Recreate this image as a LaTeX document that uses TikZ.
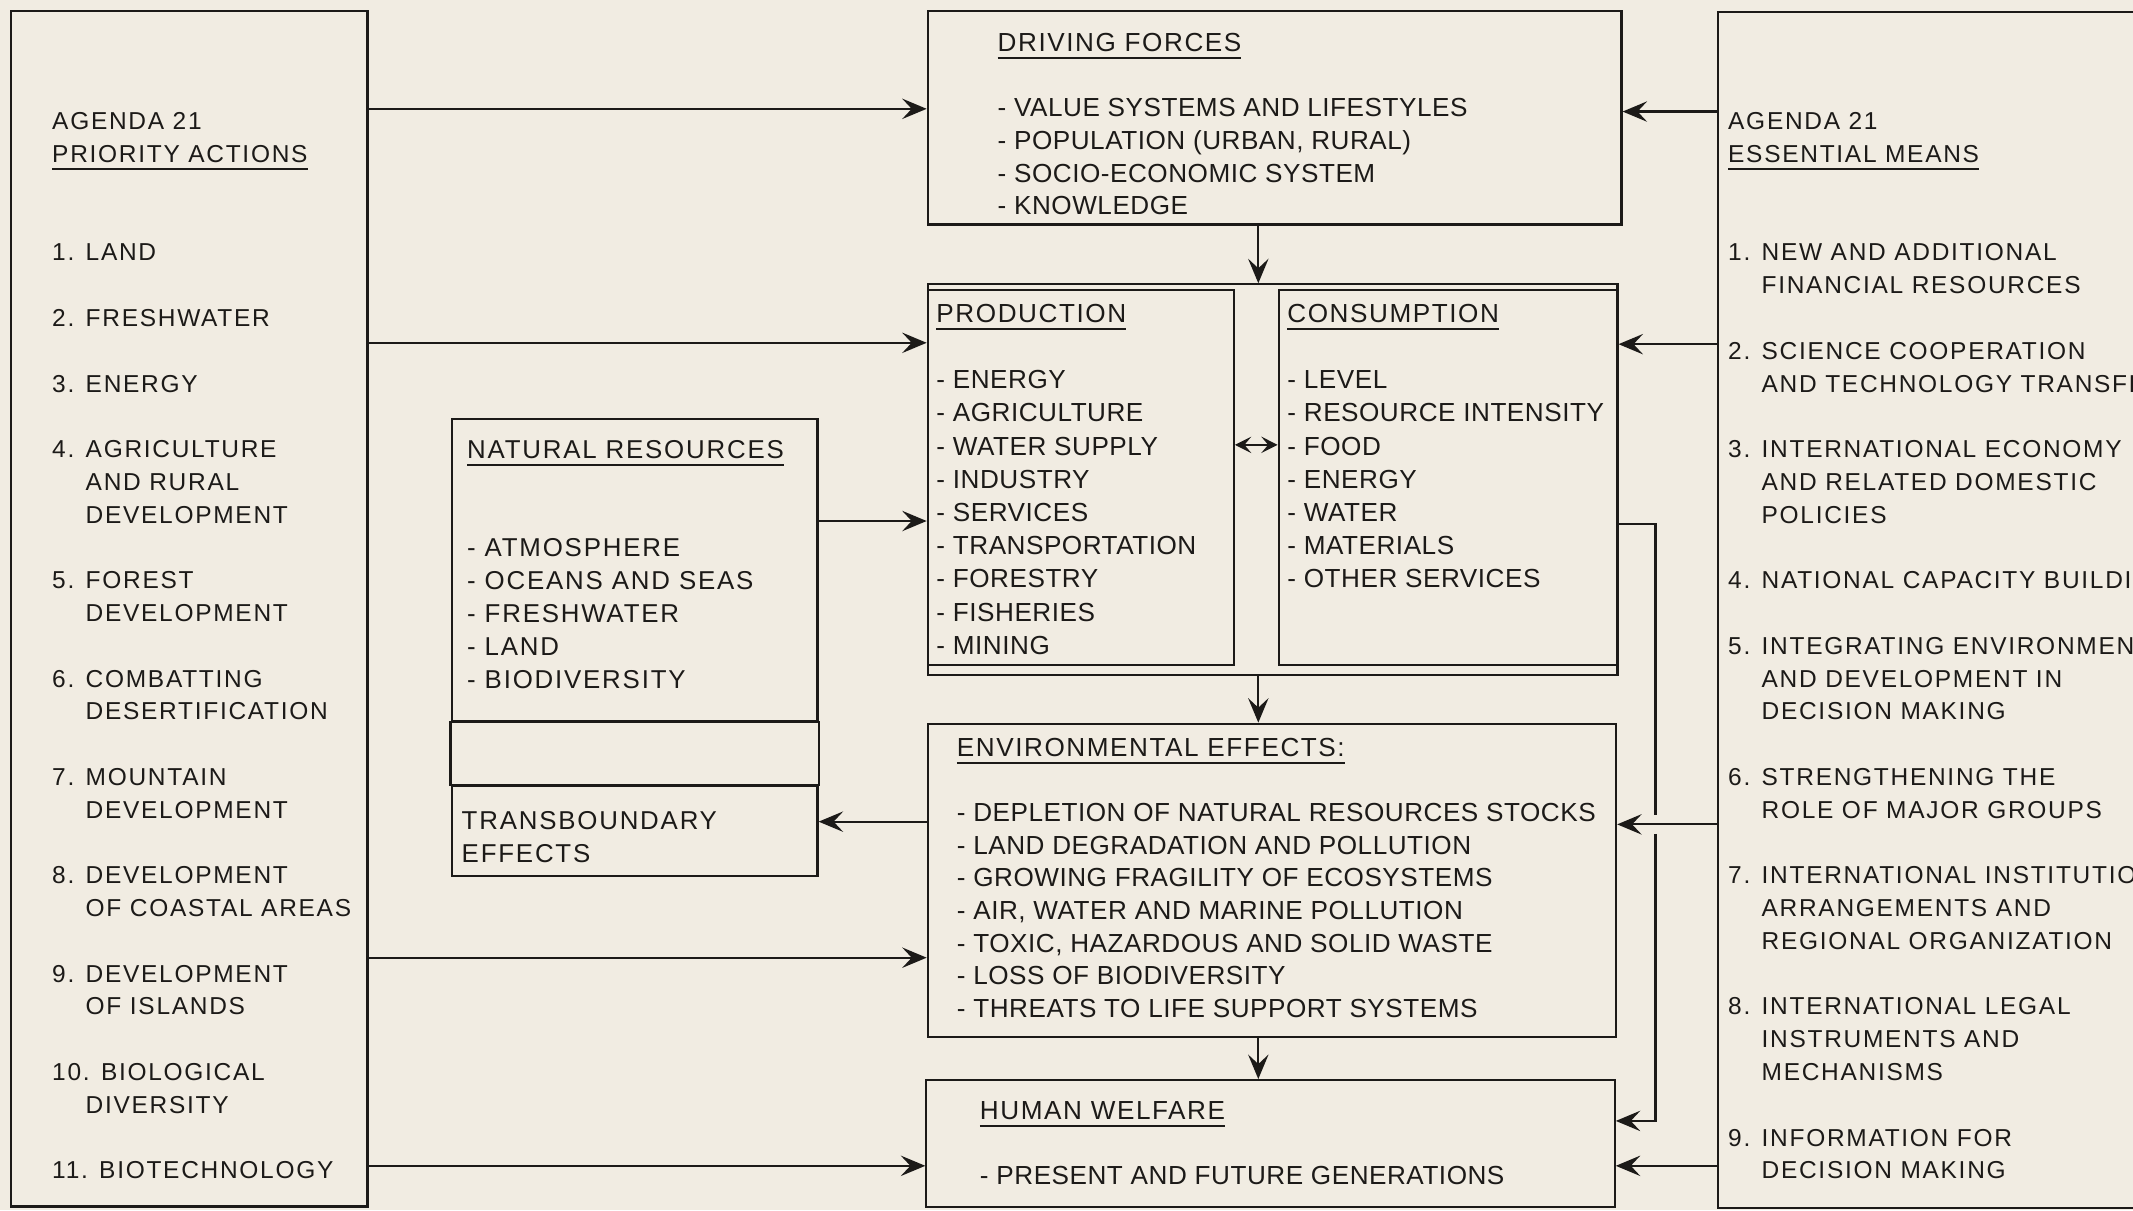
\documentclass[tikz,border=0pt]{standalone}
\usepackage{fontspec}
\setmainfont{Liberation Sans}
\newfontfamily\widefont[LetterSpace=7]{Liberation Sans}
\newfontfamily\ctrfont[LetterSpace=2]{Liberation Sans}
\newfontfamily\ctrhead[LetterSpace=6]{Liberation Sans}
\usetikzlibrary{fit,calc,arrows.meta}

\definecolor{paper}{RGB}{241,236,226}
\definecolor{ink}{RGB}{28,26,24}

\newcommand{\ulbar}[1]{\setbox0\hbox{#1}\rlap{\rule[-2.7pt]{\wd0}{0.65pt}}\box0}
\newcommand{\boxlines}[1]{\begin{tabular}[t]{@{}l@{}}#1\end{tabular}}

\begin{document}
\begin{tikzpicture}[
			x=0.5pt, y=-0.5pt,
			frame/.style={draw=ink, line width=0.8pt},
			box/.style={frame, inner sep=0pt},
			arr/.style={frame, -{Stealth[length=9pt,width=7.5pt,inset=3.5pt]}},
			dblarr/.style={frame, {Stealth[length=6pt,width=6pt,inset=2.5pt]}-{Stealth[length=6pt,width=6pt,inset=2.5pt]}},
			widetext/.style={anchor=base west, inner sep=0pt, text=ink, font=\widefont\fontsize{9}{12.05}\selectfont},
			sidetext/.style={anchor=base west, inner sep=0pt, text=ink, font=\widefont\fontsize{9.5}{12.1}\selectfont},
			ctrtext/.style={anchor=base west, inner sep=0pt, text=ink, font=\ctrfont\fontsize{9.6}{#1}\selectfont},
			ctrtext/.default=12pt
	]

		\fill[paper] (0,0) rectangle (1568,889.5);
		\useasboundingbox (0,0) rectangle (1568,889.5);
		\clip (0,0) rectangle (1568,889.5);

		% boxes
		\node (prio) [box, line width=1pt, fit={(8,8) (270,887)}] {};
		\node (means) [box, fit={(1263,9) (1660,888)}] {};
		\node (drive) [box, fit={(682,8) (1192,165)}] {};
		\node (prodcons) [box, fit={(682,209) (1189,496)}] {};
		\node (prod) [box, fit={(682,213) (907,489)}] {};
		\node (cons) [box, fit={(940,213) (1189,489)}] {};
		\node (natres) [box, fit={(332,308) (601,530)}] {};
		\node (trans) [box, fit={(332,578) (601,644)}] {};
		\draw [frame] (natres.south west) rectangle (trans.north east);
		\node (env) [box, fit={(682,532) (1188,762)}] {};
		\node (welfare) [box, fit={(681,794) (1187,887)}] {};

		% texts
		\node (priotxt) [widetext] at (38,95.4) {\boxlines{AGENDA 21\\ \ulbar{PRIORITY ACTIONS}\\ \\ \\
			1. LAND\\ \\ 2. FRESHWATER\\ \\ 3. ENERGY\\ \\
			4. AGRICULTURE\\ \phantom{4. }AND RURAL\\ \phantom{4. }DEVELOPMENT\\ \\
			5. FOREST\\ \phantom{5. }DEVELOPMENT\\ \\
			6. COMBATTING\\ \phantom{6. }DESERTIFICATION\\ \\
			7. MOUNTAIN\\ \phantom{7. }DEVELOPMENT\\ \\
			8. DEVELOPMENT\\ \phantom{8. }OF COASTAL AREAS\\ \\
			9. DEVELOPMENT\\ \phantom{9. }OF ISLANDS\\ \\
			10. BIOLOGICAL\\ \phantom{1. }DIVERSITY\\ \\
			11. BIOTECHNOLOGY}};
		\node (meanstxt) [widetext] at (1270,95.4) {\boxlines{AGENDA 21\\ \ulbar{ESSENTIAL MEANS}\\ \\ \\
			1. NEW AND ADDITIONAL\\ \phantom{1. }FINANCIAL RESOURCES\\ \\
			2. SCIENCE COOPERATION\\ \phantom{2. }AND TECHNOLOGY TRANSFER\\ \\
			3. INTERNATIONAL ECONOMY\\ \phantom{3. }AND RELATED DOMESTIC\\ \phantom{3. }POLICIES\\ \\
			4. NATIONAL CAPACITY BUILDING\\ \\
			5. INTEGRATING ENVIRONMENT\\ \phantom{5. }AND DEVELOPMENT IN\\ \phantom{5. }DECISION MAKING\\ \\
			6. STRENGTHENING THE\\ \phantom{6. }ROLE OF MAJOR GROUPS\\ \\
			7. INTERNATIONAL INSTITUTIONAL\\ \phantom{7. }ARRANGEMENTS AND\\ \phantom{7. }REGIONAL ORGANIZATION\\ \\
			8. INTERNATIONAL LEGAL\\ \phantom{8. }INSTRUMENTS AND\\ \phantom{8. }MECHANISMS\\ \\
			9. INFORMATION FOR\\ \phantom{9. }DECISION MAKING}};
		\node (natrestxt) [sidetext] at (343,336.8) {\boxlines{\ulbar{NATURAL RESOURCES}\\ \\ \\
			- ATMOSPHERE\\ - OCEANS AND SEAS\\ - FRESHWATER\\ - LAND\\ - BIODIVERSITY}};
		\node (transtxt) [sidetext] at (339,609.8) {\boxlines{TRANSBOUNDARY\\ EFFECTS}};
		\node (drivetxt) [ctrtext] at (733,37.9) {\boxlines{\ulbar{\ctrhead DRIVING FORCES}\\ \\
			- VALUE SYSTEMS AND LIFESTYLES\\ - POPULATION (URBAN, RURAL)\\
			- SOCIO-ECONOMIC SYSTEM\\ - KNOWLEDGE}};
		\node (prodtxt) [ctrtext=12.2pt] at (688,236.9) {\boxlines{\ulbar{\ctrhead PRODUCTION}\\ \\
			- ENERGY\\ - AGRICULTURE\\ - WATER SUPPLY\\ - INDUSTRY\\ - SERVICES\\
			- TRANSPORTATION\\ - FORESTRY\\ - FISHERIES\\ - MINING}};
		\node (constxt) [ctrtext=12.2pt] at (946,236.9) {\boxlines{\ulbar{\ctrhead CONSUMPTION}\\ \\
			- LEVEL\\ - RESOURCE INTENSITY\\ - FOOD\\ - ENERGY\\ - WATER\\
			- MATERIALS\\ - OTHER SERVICES}};
		\node (envtxt) [ctrtext] at (703,555.9) {\boxlines{\ulbar{\ctrhead ENVIRONMENTAL EFFECTS:}\\ \\
			- DEPLETION OF NATURAL RESOURCES STOCKS\\ - LAND DEGRADATION AND POLLUTION\\
			- GROWING FRAGILITY OF ECOSYSTEMS\\ - AIR, WATER AND MARINE POLLUTION\\
			- TOXIC, HAZARDOUS AND SOLID WASTE\\ - LOSS OF BIODIVERSITY\\
			- THREATS TO LIFE SUPPORT SYSTEMS}};
		\node (welfaretxt) [ctrtext] at (720,822.9) {\boxlines{\ulbar{\ctrhead HUMAN WELFARE}\\ \\
			- PRESENT AND FUTURE GENERATIONS}};

		% levels of the connectors
		\coordinate (cx) at (925,0);
		\coordinate (lp) at (1217,385);
		\coordinate (l1) at (0,80);
		\coordinate (l2) at (0,252);
		\coordinate (l3) at (0,383);
		\coordinate (l4) at (0,604);
		\coordinate (l5) at (0,704);
		\coordinate (l6) at (0,857);
		\coordinate (r1) at (0,82);
		\coordinate (r2) at (0,253);
		\coordinate (r3) at (0,606);
		\coordinate (r4) at (0,824);
		\coordinate (pc) at (0,327);

		\draw [arr] (prio.east |- l1) -- (drive.west |- l1);
		\draw [arr] (prio.east |- l2) -- (prod.west |- l2);
		\draw [arr] (natres.east |- l3) -- (prod.west |- l3);
		\draw [arr] (env.west |- l4) -- (trans.east |- l4);
		\draw [arr] (prio.east |- l5) -- (env.west |- l5);
		\draw [arr] (prio.east |- l6) -- (welfare.west |- l6);

		\draw [arr] (drive.south -| cx) -- (prodcons.north -| cx);
		\draw [arr] (prodcons.south -| cx) -- (env.north -| cx);
		\draw [arr] (env.south -| cx) -- (welfare.north -| cx);
		\draw [dblarr] (prod.east |- pc) -- (cons.west |- pc);

		\draw [arr] (means.west |- r1) -- (drive.east |- r1);
		\draw [arr] (means.west |- r2) -- (cons.east |- r2);
		\draw [arr] (means.west |- r3) -- (env.east |- r3);
		\draw [arr] (means.west |- l6) -- (welfare.east |- l6);

		\draw [frame] (cons.east |- lp) -| ($(lp |- r3)+(0,-7)$);
		\draw [arr] ($(lp |- r3)+(0,7)$) |- (welfare.east |- r4);
	\end{tikzpicture}
\end{document}
